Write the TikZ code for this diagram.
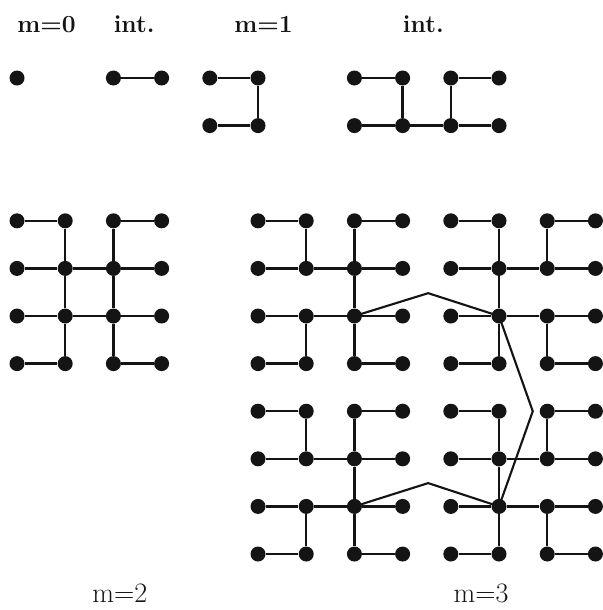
\documentclass[tikz,border=0pt]{standalone}
\usepackage{fontspec}
\usepackage{tikz}
\definecolor{ink}{HTML}{141414}
\tikzset{
  site/.style={
    circle,
    fill=ink,
    inner sep=0pt,
    minimum size=3mm
  },
  bond/.style={
    draw=ink,
    line width=1.4pt
  },
  link/.style={
    draw=ink,
    line width=1.2pt,
    line join=miter
  },
  stage/.style={
    font=\fontsize{14}{16}\selectfont\bfseries,
    text=ink,
    anchor=base west,
    inner sep=0pt
  },
  order/.style={
    font=\fontsize{16}{18}\selectfont,
    text=ink,
    anchor=base west,
    inner sep=0pt
  }
}

\begin{document}
\begin{tikzpicture}[x=0.964cm, y=-0.952cm]
  \useasboundingbox[fill=white] (-0.353,-1.639) rectangle (12.137,11.176);

  % Top row: m=0, int., m=1, int.
  \node[stage] (lab0) at (0,-0.966) {m=0};
  \node[stage] (labint) at (2,-0.966) {int.};
  \node[stage] (lab1) at (4.5,-0.966) {m=1};
  \node[stage] (labint2) at (8,-0.966) {int.};
  \foreach \k/\j in {0/0, 2/0, 3/0, 4/0, 5/0, 4/1, 5/1}
    \node[site] (v\k-\j) at (\k,\j) {};
  \foreach \k in {7,...,10}
    \foreach \j in {0,1}
      \node[site] (v\k-\j) at (\k,\j) {};
  \draw[bond] (v2-0) -- (v3-0);
  \draw[bond] (v4-0) -- (v5-0) -- (v5-1) -- (v4-1);
  \draw[bond] (v7-0) -- (v8-0) -- (v8-1) -- (v7-1);
  \draw[bond] (v8-1) -- (v9-1) -- (v10-1);
  \draw[bond] (v10-0) -- (v9-0) -- (v9-1);

  % m=2.
  \foreach \k in {0,...,3}
    \foreach \j in {3,...,6}
      \node[site] (v\k-\j) at (\k,\j) {};
  \foreach \j in {4,5}
    \draw[bond] (v0-\j) -- (v1-\j) -- (v2-\j) -- (v3-\j);
  \foreach \j in {3,6}
    \draw[bond] (v0-\j) -- (v1-\j) (v2-\j) -- (v3-\j);
  \foreach \k in {1,2}
    \draw[bond] (v\k-3) -- (v\k-4) -- (v\k-5) -- (v\k-6);
  \node[order] (lab2) at (1.556,11.01) {m=2};

  % m=3, four blocks.
  \foreach \k in {5,...,12}
    \foreach \j in {3,...,10}
      \node[site] (v\k-\j) at (\k,\j) {};
  \foreach \j in {4,5,8,9}
    \draw[bond] (v5-\j) -- (v6-\j) -- (v7-\j) -- (v8-\j)
      (v9-\j) -- (v10-\j) -- (v11-\j) -- (v12-\j);
  \foreach \j in {3,6,7,10}
    \foreach \k/\l in {5/6, 7/8, 9/10, 11/12}
      \draw[bond] (v\k-\j) -- (v\l-\j);
  \foreach \k in {6,7,10,11}
    \foreach \j/\i in {3/4, 5/6, 7/8, 9/10}
      \draw[bond] (v\k-\j) -- (v\k-\i);
  \foreach \k in {7,10}
    \foreach \j/\i in {4/5, 8/9}
      \draw[bond] (v\k-\j) -- (v\k-\i);
  \node[order] (lab3) at (9.05,11.01) {m=3};

  % Links between the blocks.
  \coordinate (peakup) at (8.53,4.52);
  \coordinate (kink) at (10.7,7.0);
  \coordinate (peakdown) at (8.53,8.51);
  \draw[link] (v7-5.center) -- (peakup) -- (v10-5.center) -- (kink)
    -- (v10-9.center) -- (peakdown) -- (v7-9.center);
\end{tikzpicture}
\end{document}
